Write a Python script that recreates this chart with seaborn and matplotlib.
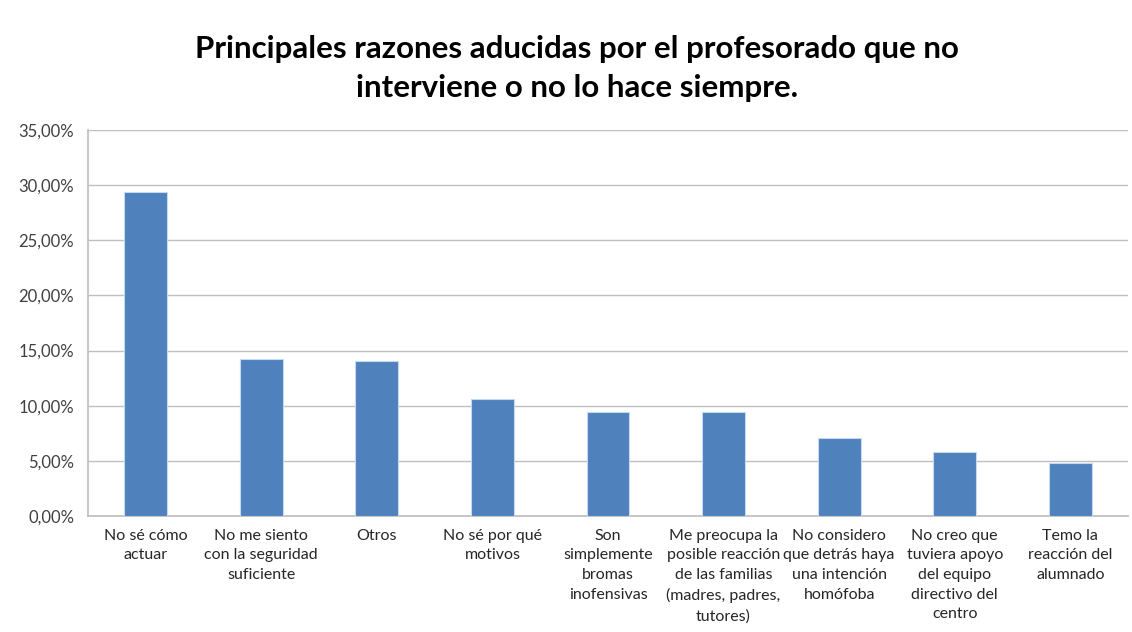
import numpy as np
import pandas as pd
import seaborn as sns
from matplotlib import pyplot as plt
from matplotlib.ticker import FuncFormatter

# razones (etiquetas tal como aparecen, con saltos de linea)
razones = [
    "No sé cómo\nactuar",
    "No me siento\ncon la seguridad\nsuficiente",
    "Otros",
    "No sé por qué\nmotivos",
    "Son\nsimplemente\nbromas\ninofensivas",
    "Me preocupa la\nposible reacción\nde las familias\n(madres, padres,\ntutores)",
    "No considero\nque detrás haya\nuna intención\nhomófoba",
    "No creo que\ntuviera apoyo\ndel equipo\ndirectivo del\ncentro",
    "Temo la\nreacción del\nalumnado",
]
porcentajes = [29.4, 14.2, 14.1, 10.6, 9.4, 9.4, 7.1, 5.8, 4.8]
titulo = "Principales razones aducidas por el profesorado que no\ninterviene o no lo hace siempre."

sns.set_theme(style="white")
plt.rcParams["font.family"] = ["Lato", "DejaVu Sans"]

df = pd.DataFrame({"razon": razones, "pct": porcentajes})

fig = plt.figure(figsize=(11.32, 6.32), dpi=100)
ax = fig.add_axes([0.0777, 0.1835, 0.9188, 0.6108])

sns.barplot(data=df, x="razon", y="pct", color="#4f81bd", saturation=1,
            width=0.37, edgecolor="#c6d9f1", linewidth=0.8, ax=ax, zorder=3)

ax.set_ylim(0, 35)
ax.set_yticks(np.arange(0, 36, 5))
ax.yaxis.set_major_formatter(FuncFormatter(lambda v, p: f"{v:.2f}%".replace(".", ",")))
ax.yaxis.grid(True, color="#bfbfbf", linewidth=1.0, zorder=0)
ax.set_axisbelow(True)
ax.set_xlabel("")
ax.set_ylabel("")

for s in ["top", "right"]:
    ax.spines[s].set_visible(False)
ax.spines["left"].set_color("#bfbfbf")
ax.spines["bottom"].set_color("#bfbfbf")

ax.tick_params(axis="y", labelsize=12, colors="#404040", length=0, pad=10)
ax.tick_params(axis="x", labelsize=11.5, colors="#262626", length=0, pad=9)
for lbl in ax.get_xticklabels():
    lbl.set_linespacing(1.52)
    lbl.set_verticalalignment("top")

fig.suptitle(titulo, x=0.51, y=0.945, fontsize=22.5, fontweight="bold",
             linespacing=1.5, color="black")

fig.savefig("out.png", dpi=100, facecolor="white")
